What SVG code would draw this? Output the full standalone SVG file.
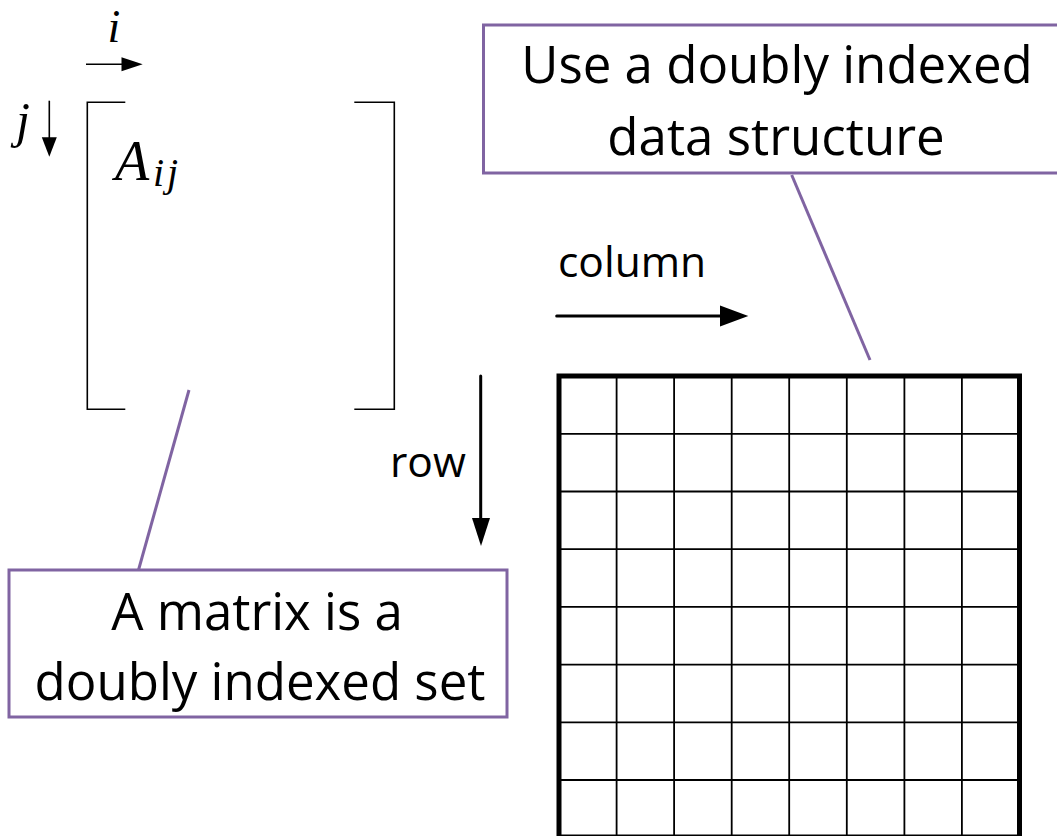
<svg xmlns="http://www.w3.org/2000/svg" width="1057" height="836" viewBox="0 0 1057 836">
<style>
.math{font-family:"Liberation Serif","DejaVu Serif",serif;font-style:italic;fill:#000}
.lbl{font-family:"Open Sans","Liberation Sans",sans-serif;font-size:42.5px;fill:#000}
.box-t{font-family:"Open Sans","Liberation Sans",sans-serif;font-size:51px;fill:#000;text-anchor:middle}
.callout{fill:#fff;stroke:#8064A2;stroke-width:3}
.lead{stroke:#8064A2;stroke-width:3;fill:none}
.brk{fill:none;stroke:#000;stroke-width:1.6}
.thin{stroke:#000;stroke-width:1.6}
.grid-line{stroke:#000;stroke-width:1.8}
</style>
<rect width="1057" height="836" fill="#fff"/>

<g id="index-i">
  <text class="math" x="114" y="42" font-size="46" text-anchor="middle">i</text>
  <line class="thin" x1="86" y1="64.3" x2="124" y2="64.3"/>
  <polygon points="121.5,57.3 142.7,64.3 121.5,71.3" fill="#000"/>
</g>

<g id="index-j">
  <text class="math" x="23" y="137" font-size="50" text-anchor="middle">j</text>
  <line class="thin" x1="49.3" y1="100.7" x2="49.3" y2="139"/>
  <polygon points="41.8,137.3 56.8,137.3 49.3,156.7" fill="#000"/>
</g>

<g id="matrix">
  <polyline class="brk" points="125.3,102.3 87.3,102.3 87.3,409.3 125.3,409.3"/>
  <polyline class="brk" points="354.3,102.3 394.3,102.3 394.3,409.3 354.3,409.3"/>
  <text class="math" x="115" y="180" font-size="56">A</text>
  <text class="math" y="186" font-size="40"><tspan x="153">i</tspan><tspan x="167">j</tspan></text>
</g>

<g id="label-column">
  <text class="lbl" x="558" y="277">column</text>
</g>
<g id="label-row">
  <text class="lbl" x="390" y="477">row</text>
</g>

<g id="grid">
  <g class="grid-line">
    <line x1="616.6" y1="376" x2="616.6" y2="836.5"/>
    <line x1="674.1" y1="376" x2="674.1" y2="836.5"/>
    <line x1="731.7" y1="376" x2="731.7" y2="836.5"/>
    <line x1="789.2" y1="376" x2="789.2" y2="836.5"/>
    <line x1="846.8" y1="376" x2="846.8" y2="836.5"/>
    <line x1="904.4" y1="376" x2="904.4" y2="836.5"/>
    <line x1="961.9" y1="376" x2="961.9" y2="836.5"/>
    <line x1="559" y1="433.8" x2="1019.5" y2="433.8"/>
    <line x1="559" y1="491.5" x2="1019.5" y2="491.5"/>
    <line x1="559" y1="549.2" x2="1019.5" y2="549.2"/>
    <line x1="559" y1="606.9" x2="1019.5" y2="606.9"/>
    <line x1="559" y1="664.6" x2="1019.5" y2="664.6"/>
    <line x1="559" y1="722.3" x2="1019.5" y2="722.3"/>
    <line x1="559" y1="780" x2="1019.5" y2="780"/>
  </g>
  <rect x="559" y="376" width="460.5" height="461" fill="none" stroke="#000" stroke-width="5"/>
</g>

<g id="callout-top">
  <rect class="callout" x="483.5" y="25" width="590" height="148"/>
  <text class="box-t" x="777" y="83">Use a doubly indexed</text>
  <text class="box-t" x="776" y="155">data structure</text>
</g>

<g id="callout-bottom">
  <rect class="callout" x="9" y="570" width="498" height="147"/>
  <text class="box-t" x="257" y="629.5">A matrix is a</text>
  <text class="box-t" x="260" y="700">doubly indexed set</text>
</g>

<g id="connectors">
  <line class="lead" x1="791.7" y1="175" x2="870" y2="360"/>
  <line class="lead" x1="189" y1="390" x2="138.5" y2="570"/>
  <line x1="556.7" y1="316" x2="722" y2="316" stroke="#000" stroke-width="3" stroke-linecap="round"/>
  <polygon points="720,305.5 748.3,316 720,326.5" fill="#000"/>
  <line x1="480.7" y1="376" x2="480.7" y2="520" stroke="#000" stroke-width="3" stroke-linecap="round"/>
  <polygon points="472,518 490,518 481,546" fill="#000"/>
</g>
</svg>
